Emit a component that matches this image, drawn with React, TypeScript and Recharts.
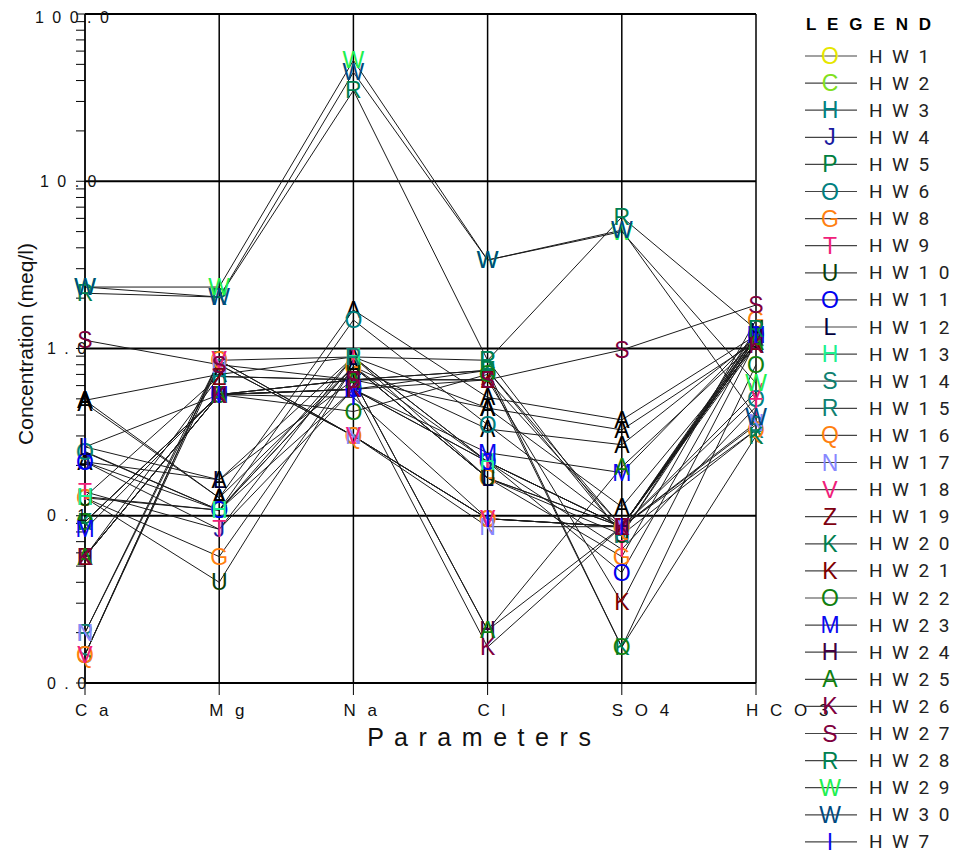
import { LineChart, Line, XAxis, YAxis, ReferenceLine } from 'recharts';

// parameters along the x axis
const params = ['Ca', 'Mg', 'Na', 'Cl', 'SO4', 'HCO3'];
const paramLabels = ['C a', 'M g', 'N a', 'C l', 'S O 4', 'H C O 3'];

// log axis ticks (decades get a label, the rest are minor ticks)
const yTicks = [
  0.01, 0.02, 0.03, 0.04, 0.05, 0.06, 0.07, 0.08, 0.09,
  0.1, 0.2, 0.3, 0.4, 0.5, 0.6, 0.7, 0.8, 0.9,
  1, 2, 3, 4, 5, 6, 7, 8, 9,
  10, 20, 30, 40, 50, 60, 70, 80, 90,
  100,
];
const decades = [0.1, 1, 10, 100];
const yLabels: Record<string, string> = {
  '0.01': '0 . 0',
  '0.1': '0 . 1',
  '1': '1 . 0',
  '10': '1 0 . 0',
  '100': '1 0 0 . 0',
};

// concentrations (meq/l) in order Ca, Mg, Na, Cl, SO4, HCO3
const hw1 = [0.24, 0.108, 0.78, 0.21, 0.086, 1.2];
const hw2 = [0.128, 0.108, 0.78, 0.168, 0.086, 1.1];
const hw3 = [0.13, 0.68, 0.65, 0.74, 0.077, 1.2];
const hw4 = [0.21, 0.083, 0.57, 0.21, 0.086, 1.1];
const hw5 = [0.092, 0.53, 0.65, 0.74, 0.086, 1.15];
const hw6 = [0.242, 0.108, 1.48, 0.35, 0.086, 0.5];
const hw8 = [0.128, 0.057, 0.78, 0.168, 0.057, 1.48];
const hw9 = [0.139, 0.083, 0.89, 0.21, 0.063, 0.45];
const hw10 = [0.128, 0.04, 0.78, 0.168, 0.077, 1.3];
const hw11 = [0.21, 0.108, 0.57, 0.21, 0.0457, 1.2];
const hw12 = [0.258, 0.164, 0.89, 0.168, 0.086, 1.25];
const hw13 = [0.13, 0.108, 0.89, 0.21, 0.086, 1.1];
const hw14 = [0.0148, 0.8, 0.3, 0.096, 0.086, 0.35];
const hw15 = [0.02, 0.85, 0.89, 0.85, 0.077, 0.326];
const hw16 = [0.0148, 0.85, 0.3, 0.096, 0.086, 0.326];
const hw17 = [0.02, 0.8, 0.3, 0.086, 0.086, 0.36];
const hw18 = [0.0148, 0.85, 0.3, 0.096, 0.086, 0.55];
const hw19 = [0.057, 0.68, 0.65, 0.65, 0.086, 1.1];
const hw20 = [0.092, 0.53, 0.57, 0.74, 0.0164, 0.3];
const hw21 = [0.057, 0.53, 0.57, 0.65, 0.0303, 1.1];
const hw22 = [0.092, 0.53, 0.42, 0.7, 0.0164, 0.8];
const hw23 = [0.083, 0.53, 0.57, 0.238, 0.181, 1.2];
const hw24 = [0.057, 0.53, 0.65, 0.0207, 0.086, 1.15];
const hw25 = [0.057, 0.53, 0.65, 0.0207, 0.196, 1.1];
const hw26 = [0.057, 0.53, 0.57, 0.0164, 0.086, 1.05];
const hw27 = [1.12, 0.8, 0.65, 0.65, 0.98, 1.82];
const hw28 = [2.14, 2.03, 34.9, 0.85, 6.1, 1.3];
const hw29 = [2.33, 2.33, 52.8, 3.38, 5.0, 0.62];
const hw30 = [2.33, 2.03, 44.8, 3.38, 5.1, 0.39];
const hw7 = [0.258, 0.53, 0.51, 0.096, 0.086, 1.2];
// unlabelled samples drawn with black "A"
const extA1 = [0.49, 0.128, 1.7, 0.51, 0.374, 1.2];
const extA2 = [0.49, 0.7, 0.89, 0.44, 0.326, 1.1];
const extA3 = [0.47, 0.128, 0.78, 0.33, 0.266, 1.15];
const extA4 = [0.21, 0.164, 0.65, 0.44, 0.113, 1.05];

const wells = [
  { key: 'hw1', name: 'H W 1', letter: 'O', color: '#e6e600', values: hw1 },
  { key: 'hw2', name: 'H W 2', letter: 'C', color: '#80e020', values: hw2 },
  { key: 'hw3', name: 'H W 3', letter: 'H', color: '#008080', values: hw3 },
  { key: 'hw4', name: 'H W 4', letter: 'J', color: '#1a1aa0', values: hw4 },
  { key: 'hw5', name: 'H W 5', letter: 'P', color: '#008040', values: hw5 },
  { key: 'hw6', name: 'H W 6', letter: 'O', color: '#008080', values: hw6 },
  { key: 'hw8', name: 'H W 8', letter: 'G', color: '#ff8010', values: hw8 },
  { key: 'hw9', name: 'H W 9', letter: 'T', color: '#f0207a', values: hw9 },
  { key: 'hw10', name: 'H W 1 0', letter: 'U', color: '#0a400a', values: hw10 },
  { key: 'hw11', name: 'H W 1 1', letter: 'O', color: '#0000f0', values: hw11 },
  { key: 'hw12', name: 'H W 1 2', letter: 'L', color: '#000040', values: hw12 },
  { key: 'hw13', name: 'H W 1 3', letter: 'H', color: '#20f090', values: hw13 },
  { key: 'hw14', name: 'H W 1 4', letter: 'S', color: '#108070', values: hw14 },
  { key: 'hw15', name: 'H W 1 5', letter: 'R', color: '#108070', values: hw15 },
  { key: 'hw16', name: 'H W 1 6', letter: 'Q', color: '#ff8010', values: hw16 },
  { key: 'hw17', name: 'H W 1 7', letter: 'N', color: '#8888ff', values: hw17 },
  { key: 'hw18', name: 'H W 1 8', letter: 'V', color: '#f0207a', values: hw18 },
  { key: 'hw19', name: 'H W 1 9', letter: 'Z', color: '#800010', values: hw19 },
  { key: 'hw20', name: 'H W 2 0', letter: 'K', color: '#008050', values: hw20 },
  { key: 'hw21', name: 'H W 2 1', letter: 'K', color: '#800000', values: hw21 },
  { key: 'hw22', name: 'H W 2 2', letter: 'O', color: '#108010', values: hw22 },
  { key: 'hw23', name: 'H W 2 3', letter: 'M', color: '#0a0af0', values: hw23 },
  { key: 'hw24', name: 'H W 2 4', letter: 'H', color: '#400040', values: hw24 },
  { key: 'hw25', name: 'H W 2 5', letter: 'A', color: '#108010', values: hw25 },
  { key: 'hw26', name: 'H W 2 6', letter: 'K', color: '#800040', values: hw26 },
  { key: 'hw27', name: 'H W 2 7', letter: 'S', color: '#800040', values: hw27 },
  { key: 'hw28', name: 'H W 2 8', letter: 'R', color: '#008050', values: hw28 },
  { key: 'hw29', name: 'H W 2 9', letter: 'W', color: '#20f050', values: hw29 },
  { key: 'hw30', name: 'H W 3 0', letter: 'W', color: '#004a80', values: hw30 },
  { key: 'hw7', name: 'H W 7', letter: 'I', color: '#0a0af0', values: hw7 },
];

const extras = [
  { key: 'a1', letter: 'A', color: '#000000', values: extA1 },
  { key: 'a2', letter: 'A', color: '#000000', values: extA2 },
  { key: 'a3', letter: 'A', color: '#000000', values: extA3 },
  { key: 'a4', letter: 'A', color: '#000000', values: extA4 },
];

const allSeries = [...extras, ...wells];

const data = params.map((p, i) => {
  const row: Record<string, string | number> = { param: p };
  allSeries.forEach((s) => {
    row[s.key] = s.values[i];
  });
  return row;
});

const FONT = '"Liberation Sans", Arial, sans-serif';

const letterDot = (letter: string, color: string) => (props: any) => {
  const { cx, cy, index } = props;
  if (cx == null || cy == null) return <g key={`e-${index}`} />;
  return (
    <text
      key={`${letter}-${index}`}
      x={cx}
      y={cy}
      textAnchor="middle"
      dominantBaseline="central"
      fontFamily={FONT}
      fontSize={23}
      fill={color}
    >
      {letter}
    </text>
  );
};

const XTick = (props: any) => {
  const { x, payload } = props;
  const idx = params.indexOf(payload.value);
  return (
    <text
      x={x - 10}
      y={702}
      textAnchor="start"
      dominantBaseline="central"
      fontFamily={FONT}
      fontSize={17}
      letterSpacing={3.5}
      fill="#111"
    >
      {paramLabels[idx]}
    </text>
  );
};

const YTick = (props: any) => {
  const { y, payload } = props;
  const label = yLabels[String(payload.value)];
  if (!label) return <g />;
  const startX = payload.value === 100 ? 27 : payload.value === 10 ? 32 : 39;
  return (
    <text
      x={startX}
      y={payload.value === 100 ? y + 3 : y}
      textAnchor="start"
      dominantBaseline="central"
      fontFamily={FONT}
      fontSize={16}
      letterSpacing={2}
      fill="#111"
    >
      {label}
    </text>
  );
};

function LegendBox() {
  return (
    <svg
      width={148}
      height={845}
      style={{ position: 'absolute', left: 796, top: 0, overflow: 'visible' }}
    >
      <text
        x={2}
        y={16}
        dominantBaseline="central"
        fontFamily={FONT}
        fontWeight="bold"
        fontSize={17}
        letterSpacing={3.1}
        fill="#000"
      >
        L E G E N D
      </text>
      {wells.map((w, i) => {
        const cy = 48 + i * 27.1;
        return (
          <g key={w.key}>
            <line x1={1} x2={53} y1={cy} y2={cy} stroke="#444" strokeWidth={1.2} />
            <text
              x={26}
              y={cy}
              textAnchor="middle"
              dominantBaseline="central"
              fontFamily={FONT}
              fontSize={23}
              fill={w.color}
            >
              {w.letter}
            </text>
            <text
              x={65}
              y={cy}
              dominantBaseline="central"
              fontFamily="Roboto, sans-serif"
              fontSize={19}
              letterSpacing={2.4}
              fill="#222"
            >
              {w.name}
            </text>
          </g>
        );
      })}
    </svg>
  );
}

export default function App() {
  return (
    <div style={{ position: 'relative', width: 944, height: 845, fontFamily: FONT }}>
      <LineChart
        width={944}
        height={845}
        data={data}
        margin={{ top: 6, right: 196, bottom: 100, left: 10 }}
      >
        {decades.map((d) => (
          <ReferenceLine key={`h${d}`} y={d} stroke="#000" strokeWidth={1.8} />
        ))}
        {params.slice(1).map((p) => (
          <ReferenceLine key={`v${p}`} x={p} stroke="#000" strokeWidth={1.5} />
        ))}
        <XAxis
          dataKey="param"
          type="category"
          scale="point"
          padding={{ left: 0, right: 0 }}
          interval={0}
          height={70}
          tickSize={12}
          tickLine={{ stroke: '#000', strokeWidth: 1 }}
          axisLine={{ stroke: '#000', strokeWidth: 1.8 }}
          tick={<XTick />}
          label={() => (
            <text
              x={472}
              y={729}
              textAnchor="middle"
              dominantBaseline="central"
              fontFamily={FONT}
              fontSize={25}
              letterSpacing={1.8}
              fill="#111"
            >
              P a r a m e t e r s
            </text>
          )}
        />
        <YAxis
          type="number"
          scale="log"
          domain={[0.01, 100]}
          allowDataOverflow
          ticks={yTicks}
          interval={0}
          width={67}
          tickSize={9}
          tickLine={{ stroke: '#000', strokeWidth: 1 }}
          axisLine={{ stroke: '#000', strokeWidth: 1.8 }}
          tick={<YTick />}
          label={() => (
            <text
              x={17}
              y={336}
              transform="rotate(-90, 17, 336)"
              textAnchor="middle"
              dominantBaseline="central"
              fontFamily={FONT}
              fontSize={21}
              fill="#111"
            >
              Concentration (meq/l)
            </text>
          )}
        />
        {allSeries.map((s) => (
          <Line
            key={`line-${s.key}`}
            dataKey={s.key}
            type="linear"
            stroke="#1a1a1a"
            strokeWidth={1}
            dot={false}
            activeDot={false}
            isAnimationActive={false}
          />
        ))}
        {allSeries.map((s) => (
          <Line
            key={`mark-${s.key}`}
            dataKey={s.key}
            type="linear"
            stroke="none"
            strokeWidth={0}
            dot={letterDot(s.letter, s.color)}
            activeDot={false}
            isAnimationActive={false}
          />
        ))}
      </LineChart>
      <LegendBox />
    </div>
  );
}
